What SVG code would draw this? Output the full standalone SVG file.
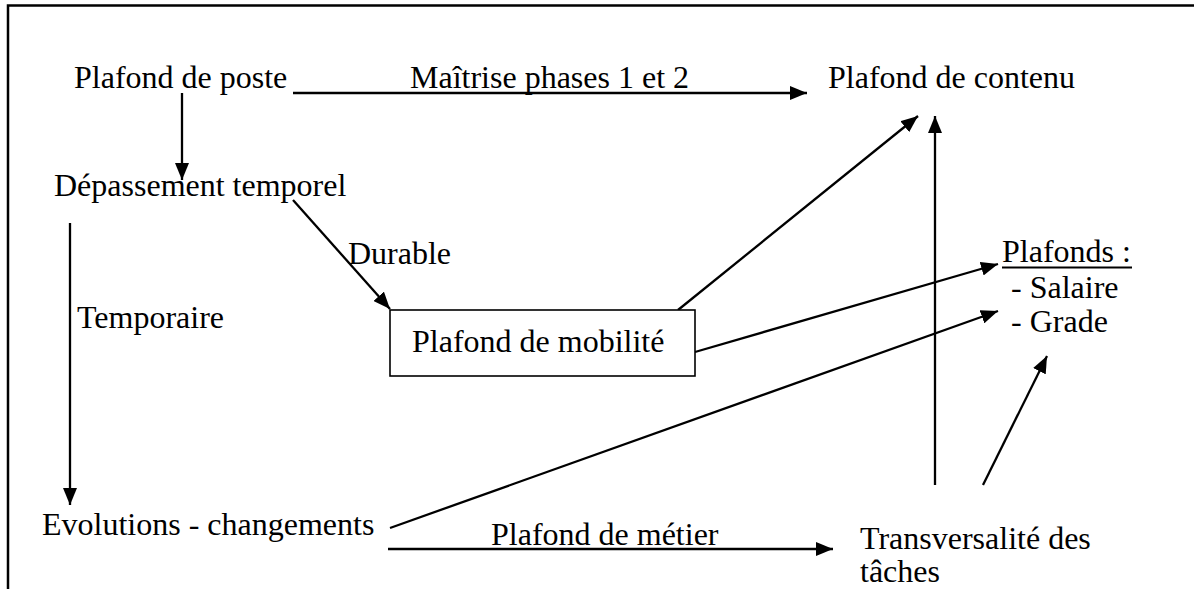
<svg xmlns="http://www.w3.org/2000/svg" width="1194" height="589" viewBox="0 0 1194 589" font-family="'Liberation Serif', 'Times New Roman', serif" font-size="32">
<style>
text{font-family:'Liberation Serif','Times New Roman',serif;font-size:32px;fill:#000}
.c{fill:none;stroke:#000;stroke-width:2.3}
.f{fill:none;stroke:#000;stroke-width:2.5}
</style>
<defs>
<marker id="ah" markerUnits="userSpaceOnUse" markerWidth="18" markerHeight="14" refX="17" refY="7" orient="auto">
<path d="M0,0 L17,7 L0,14 z" fill="#000"/>
</marker>
</defs>
<rect width="1194" height="589" fill="#fff"/>
<g id="frame">
<path class="f" d="M8,589 V5.5 H1194"/>
</g>
<g id="connectors">
<path class="c" d="M293,93 H807" marker-end="url(#ah)"/>
<path class="c" d="M182,93 V180" marker-end="url(#ah)"/>
<path class="c" d="M293,200 L390,309" marker-end="url(#ah)"/>
<path class="c" d="M70,223 V505" marker-end="url(#ah)"/>
<path class="c" d="M678,310 L918,116" marker-end="url(#ah)"/>
<path class="c" d="M935,485 V116" marker-end="url(#ah)"/>
<path class="c" d="M695,352 L998,264" marker-end="url(#ah)"/>
<path class="c" d="M390,528 L998,311" marker-end="url(#ah)"/>
<path class="c" d="M388,549 H833" marker-end="url(#ah)"/>
<path class="c" d="M983,485 L1047,356" marker-end="url(#ah)"/>
<text x="410" y="88">Maîtrise phases 1 et 2</text>
<text x="348" y="264">Durable</text>
<text x="77" y="328">Temporaire</text>
<text x="491" y="545">Plafond de métier</text>
</g>
<g id="plafond-poste"><text x="74" y="88">Plafond de poste</text></g>
<g id="plafond-contenu"><text x="828" y="88">Plafond de contenu</text></g>
<g id="depassement"><text x="54" y="196">Dépassement temporel</text></g>
<g id="plafond-mobilite">
<rect x="390" y="310" width="305" height="66" fill="#fff" stroke="#000" stroke-width="1.6"/>
<text x="412" y="352">Plafond de mobilité</text>
</g>
<g id="plafonds">
<text x="1002" y="262">Plafonds :</text>
<line x1="1002" y1="267.5" x2="1132" y2="267.5" stroke="#000" stroke-width="2"/>
<text x="1011" y="298">- Salaire</text>
<text x="1011" y="332">- Grade</text>
</g>
<g id="evolutions"><text x="42" y="535">Evolutions - changements</text></g>
<g id="transversalite">
<text x="860" y="549">Transversalité des</text>
<text x="860" y="582">tâches</text>
</g>
</svg>
